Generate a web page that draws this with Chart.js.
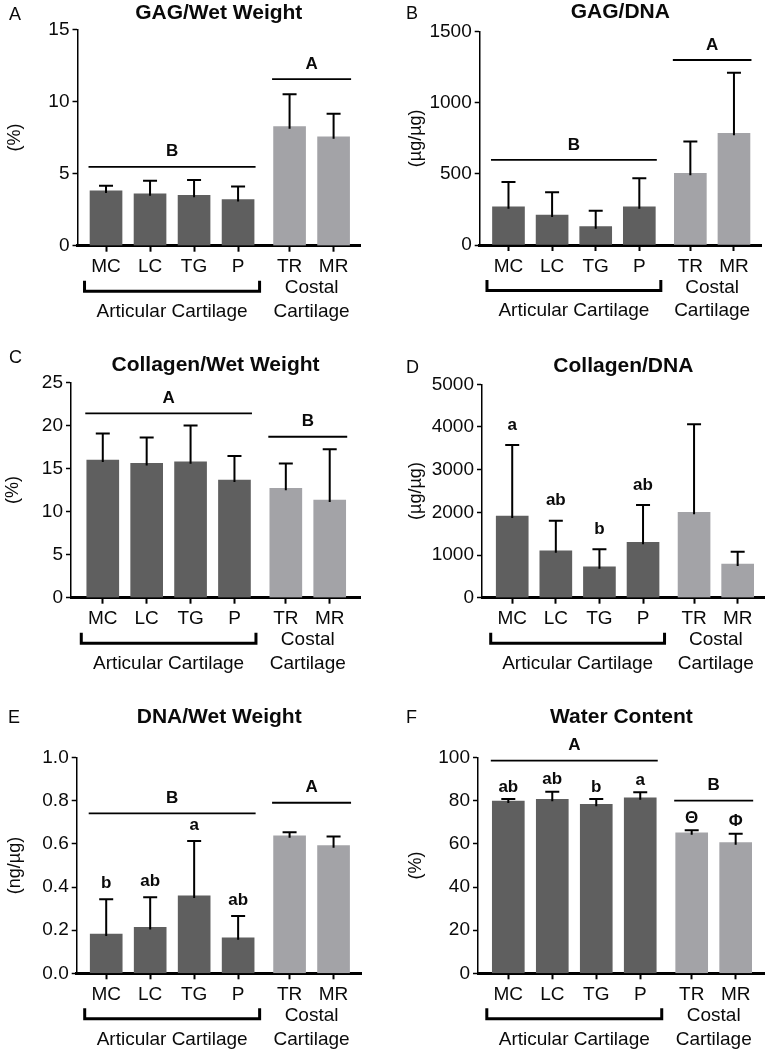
<!DOCTYPE html>
<html><head><meta charset="utf-8">
<script src="https://cdn.jsdelivr.net/npm/chart.js@4.4.0/dist/chart.umd.min.js"></script>
<style>
html,body{margin:0;padding:0;background:#fff;}
#wrap{position:relative;width:767px;height:1050px;overflow:hidden;background:#fff;}
canvas{position:absolute;}
</style></head><body><div id="wrap">
<canvas id="cA" width="383" height="340" style="left:0;top:0"></canvas>
<canvas id="cB" width="384" height="340" style="left:383px;top:0"></canvas>
<canvas id="cC" width="383" height="340" style="left:0;top:340px"></canvas>
<canvas id="cD" width="384" height="340" style="left:383px;top:340px"></canvas>
<canvas id="cE" width="383" height="370" style="left:0;top:680px"></canvas>
<canvas id="cF" width="384" height="370" style="left:383px;top:680px"></canvas>
</div>
<script>
// ---- data ----
const categories = ['MC','LC','TG','P','TR','MR'];
const groupOf = [0,0,0,0,1,1];
const groupLabels = [['Articular Cartilage'],['Costal','Cartilage']];

const gagWetMean = [3.8, 3.6, 3.5, 3.2, 8.25, 7.55];
const gagWetSD   = [0.35, 0.9, 1.05, 0.9, 2.25, 1.6];

const gagDnaMean = [269, 211, 129, 269, 504, 786];
const gagDnaSD   = [174, 160, 112, 200, 223, 426];

const colWetMean = [15.97, 15.59, 15.78, 13.65, 12.69, 11.33];
const colWetSD   = [3.1, 3.0, 4.2, 2.8, 2.9, 5.9];

const colDnaMean = [1914, 1101, 726, 1298, 2001, 790];
const colDnaSD   = [1664, 703, 408, 874, 2062, 288];

const dnaWetMean = [0.182, 0.213, 0.359, 0.165, 0.638, 0.592];
const dnaWetSD   = [0.161, 0.14, 0.255, 0.101, 0.016, 0.042];

const waterMean  = [79.9, 80.7, 78.4, 81.4, 65.2, 60.6];
const waterSD    = [0.9, 3.5, 2.4, 2.6, 1.1, 4.1];

const lettersD = ['a','ab','b','ab','',''];
const lettersE = ['b','ab','a','ab','',''];
const lettersF = ['ab','ab','b','a','\u0398','\u03A6'];

// ---- styling / layout ----
const FONT = '"Liberation Sans", Arial, Helvetica, sans-serif';
const DARK = '#5f5f5f', LIGHT = '#a3a3a7';
const TXT = '#0a0a0a';
const GROUP_GAP = 0.17;
const pos = categories.map((c,i)=> i + groupOf[i]*GROUP_GAP);

const panels = [
 {id:'cA', tag:'A', title:'GAG/Wet Weight', yTitle:'(%)', mean:gagWetMean, sd:gagWetSD, yMax:15, step:5, dec:0,
  area:{l:77.5,r:360,t:29.3,b:245.7}, xMin:-0.648, xMax:5.77, titleY:19, tagX:9, tagY:20, yTitleX:15,
  groupLines:[{g:0,v:5.47,t:'B'},{g:1,v:11.55,t:'A'}], letters:null, letterOff:0},
 {id:'cB', tag:'B', title:'GAG/DNA', yTitle:'(\u00B5g/\u00B5g)', mean:gagDnaMean, sd:gagDnaSD, yMax:1500, step:500, dec:0,
  area:{l:96.7,r:378,t:31.7,b:245}, xMin:-0.66, xMax:5.79, titleY:18.3, tagX:23, tagY:19.3, yTitleX:33,
  groupLines:[{g:0,v:598,t:'B'},{g:1,v:1301,t:'A'}], letters:null, letterOff:0},
 {id:'cC', tag:'C', title:'Collagen/Wet Weight', yTitle:'(%)', mean:colWetMean, sd:colWetSD, yMax:25, step:5, dec:0,
  area:{l:71,r:360,t:42.3,b:257.7}, xMin:-0.724, xMax:5.86, titleY:30.7, tagX:9, tagY:23.3, yTitleX:13,
  groupLines:[{g:0,v:21.39,t:'A'},{g:1,v:18.68,t:'B'}], letters:null, letterOff:0},
 {id:'cD', tag:'D', title:'Collagen/DNA', yTitle:'(\u00B5g/\u00B5g)', mean:colDnaMean, sd:colDnaSD, yMax:5000, step:1000, dec:0,
  area:{l:99,r:381.7,t:44.3,b:257.7}, xMin:-0.693, xMax:5.79, titleY:32.3, tagX:23, tagY:33.3, yTitleX:33,
  groupLines:[], letters:lettersD, letterOff:20},
 {id:'cE', tag:'E', title:'DNA/Wet Weight', yTitle:'(ng/\u00B5g)', mean:dnaWetMean, sd:dnaWetSD, yMax:1, step:0.2, dec:1,
  area:{l:76.7,r:361.7,t:77.7,b:293.3}, xMin:-0.671, xMax:5.81, titleY:43.3, tagX:8, tagY:43.3, yTitleX:15,
  groupLines:[{g:0,v:0.742,t:'B'},{g:1,v:0.791,t:'A'}], letters:lettersE, letterOff:16},
 {id:'cF', tag:'F', title:'Water Content', yTitle:'(%)', mean:waterMean, sd:waterSD, yMax:100, step:20, dec:0,
  area:{l:95,r:381.7,t:77.7,b:293.3}, xMin:-0.689, xMax:5.83, titleY:43.3, tagX:23, tagY:43.3, yTitleX:33,
  groupLines:[{g:0,v:98.6,t:'A'},{g:1,v:80.1,t:'B'}], letters:lettersF, letterOff:12}
];

function makePlugin(p){
  return {
    id:'deco'+p.id,
    afterDatasetsDraw(chart){
      const ctx = chart.ctx, xs = chart.scales.x, ys = chart.scales.y;
      ctx.save();
      ctx.strokeStyle = '#000'; ctx.lineWidth = 2;
      p.mean.forEach((m,i)=>{
        const x = xs.getPixelForValue(pos[i]);
        const y0 = ys.getPixelForValue(m) + 2;
        const y1 = ys.getPixelForValue(m + p.sd[i]);
        ctx.beginPath();
        ctx.moveTo(x, y0); ctx.lineTo(x, y1);
        ctx.moveTo(x-7, y1); ctx.lineTo(x+7, y1);
        ctx.stroke();
      });
      ctx.restore();
    },
    afterDraw(chart){
      const ctx = chart.ctx, xs = chart.scales.x, ys = chart.scales.y, ca = chart.chartArea;
      const px = i => xs.getPixelForValue(pos[i]);
      ctx.save();
      ctx.fillStyle = TXT; ctx.strokeStyle = '#000';
      // title
      ctx.font = 'bold 21px ' + FONT; ctx.textAlign = 'center'; ctx.textBaseline = 'alphabetic';
      ctx.fillText(p.title, (ca.left+ca.right)/2, p.titleY);
      // panel tag
      ctx.font = '18px ' + FONT; ctx.textAlign = 'left';
      ctx.fillText(p.tag, p.tagX, p.tagY);
      // y title
      ctx.save();
      ctx.translate(p.yTitleX, (ca.top+ca.bottom)/2); ctx.rotate(-Math.PI/2);
      ctx.font = '18px ' + FONT; ctx.textAlign = 'center'; ctx.textBaseline = 'middle';
      ctx.fillText(p.yTitle, 0, 0);
      ctx.restore();
      // group lines
      ctx.lineWidth = 1.8;
      p.groupLines.forEach(gl=>{
        const f = groupOf.indexOf(gl.g), l = groupOf.lastIndexOf(gl.g);
        const x0 = px(f) - 17.5, x1 = px(l) + 17.5, y = ys.getPixelForValue(gl.v);
        ctx.beginPath(); ctx.moveTo(x0,y); ctx.lineTo(x1,y); ctx.stroke();
        ctx.font = 'bold 17px ' + FONT; ctx.textAlign = 'center'; ctx.textBaseline = 'middle';
        ctx.fillText(gl.t, (x0+x1)/2, y - 15);
      });
      // significance letters
      if (p.letters){
        ctx.font = 'bold 17px ' + FONT; ctx.textAlign = 'center'; ctx.textBaseline = 'middle';
        p.letters.forEach((t,i)=>{
          if(!t) return;
          const y = ys.getPixelForValue(p.mean[i] + p.sd[i]) - p.letterOff;
          ctx.fillText(t, px(i), y);
        });
      }
      // bracket under articular
      const b0 = px(0) - 21.5, b1 = px(3) + 21.5, by = ca.bottom + 45.5;
      ctx.lineWidth = 3; ctx.lineJoin = 'miter';
      ctx.beginPath();
      ctx.moveTo(b0, ca.bottom + 35); ctx.lineTo(b0, by); ctx.lineTo(b1, by); ctx.lineTo(b1, ca.bottom + 35);
      ctx.stroke();
      // group names
      ctx.font = '19px ' + FONT; ctx.textAlign = 'center'; ctx.textBaseline = 'middle';
      ctx.fillText(groupLabels[0][0], (px(0)+px(3))/2, ca.bottom + 66);
      ctx.fillText(groupLabels[1][0], (px(4)+px(5))/2, ca.bottom + 42.5);
      ctx.fillText(groupLabels[1][1], (px(4)+px(5))/2, ca.bottom + 66);
      ctx.restore();
    }
  };
}

panels.forEach(p=>{
  const cv = document.getElementById(p.id);
  const W = cv.width, H = cv.height, A = p.area;
  const colors = groupOf.map(g => g === 0 ? DARK : LIGHT);
  new Chart(cv, {
    type:'bar',
    data:{ datasets:[{ data: pos.map((x,i)=>({x:x, y:p.mean[i]})), backgroundColor: colors, borderWidth:0, barThickness:32 }] },
    options:{
      responsive:false, animation:false, events:[], devicePixelRatio:1,
      layout:{ padding:{ left:0, right: W - A.r, top: A.t, bottom: 0 } },
      plugins:{ legend:{display:false}, tooltip:{enabled:false}, title:{display:false} },
      scales:{
        x:{ type:'linear', min:p.xMin, max:p.xMax, offset:false, z:1,
            grid:{ offset:false, drawOnChartArea:false, drawTicks:true, tickLength:6, tickWidth:2, color:'#000' },
            border:{ display:true, color:'#000', width:3 },
            ticks:{ autoSkip:false, maxRotation:0, minRotation:0, padding:4, color:TXT,
                    font:{family:FONT, size:19}, callback:(v,i)=>categories[i] },
            afterBuildTicks: s => { s.ticks = pos.map(v=>({value:v})); },
            afterFit: s => { s.height = H - A.b; } },
        y:{ type:'linear', min:0, max:p.yMax, z:1,
            grid:{ drawOnChartArea:false, drawTicks:true, tickLength:5, tickWidth:1.5, color:'#000' },
            border:{ display:true, color:'#000', width:1.5 },
            ticks:{ stepSize:p.step, padding:3, color:TXT, font:{family:FONT, size:19},
                    callback: v => Number(v).toFixed(p.dec) },
            afterFit: s => { s.width = A.l; } }
      }
    },
    plugins:[makePlugin(p)]
  });
});
</script>
</body></html>
